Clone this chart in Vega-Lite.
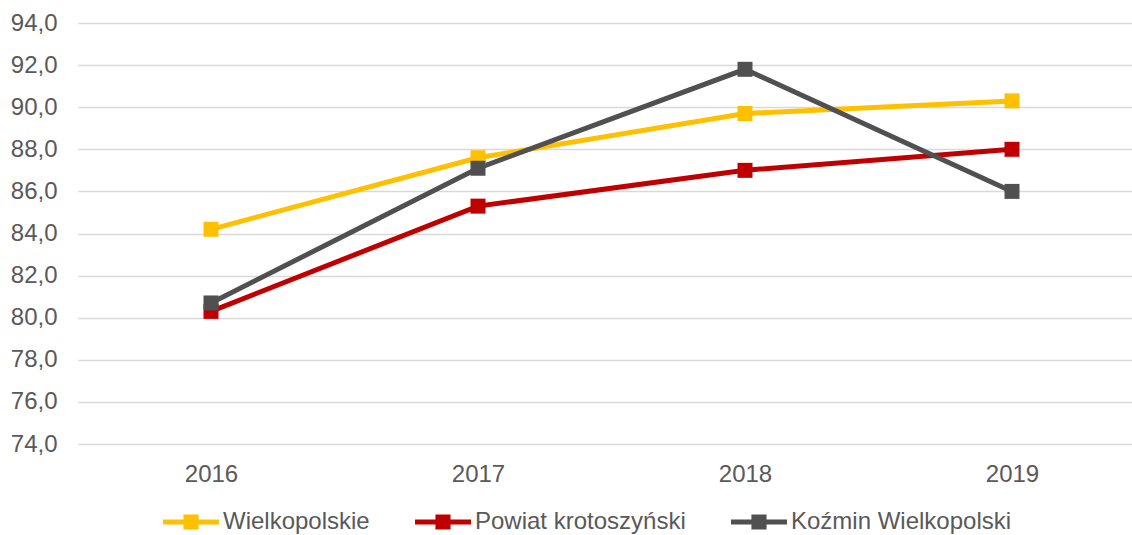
{
  "$schema": "https://vega.github.io/schema/vega-lite/v6.json",
  "width": 1054,
  "height": 421,
  "autosize": {"type": "none"},
  "padding": {"left": 78, "top": 23, "right": 0, "bottom": 91},
  "config": {"view": {"stroke": null}, "font": "Liberation Sans"},
  "data": {
    "values": [
      {"series": "Wielkopolskie", "year": "2016", "value": 84.2},
      {"series": "Wielkopolskie", "year": "2017", "value": 87.6},
      {"series": "Wielkopolskie", "year": "2018", "value": 89.7},
      {"series": "Wielkopolskie", "year": "2019", "value": 90.3},
      {"series": "Powiat krotoszyński", "year": "2016", "value": 80.3},
      {"series": "Powiat krotoszyński", "year": "2017", "value": 85.3},
      {"series": "Powiat krotoszyński", "year": "2018", "value": 87.0},
      {"series": "Powiat krotoszyński", "year": "2019", "value": 88.0},
      {"series": "Koźmin Wielkopolski", "year": "2016", "value": 80.7},
      {"series": "Koźmin Wielkopolski", "year": "2017", "value": 87.1},
      {"series": "Koźmin Wielkopolski", "year": "2018", "value": 91.8},
      {"series": "Koźmin Wielkopolski", "year": "2019", "value": 86.0}
    ]
  },
  "encoding": {
    "x": {
      "field": "year",
      "type": "ordinal",
      "scale": {"type": "point", "padding": 0.4738, "align": 0.5257},
      "axis": {
        "title": null,
        "domain": false,
        "ticks": false,
        "grid": false,
        "labelAngle": 0,
        "labelFontSize": 24,
        "labelColor": "#595959",
        "labelPadding": 18
      }
    },
    "y": {
      "field": "value",
      "type": "quantitative",
      "scale": {"domain": [74, 94], "nice": false, "zero": false},
      "axis": {
        "title": null,
        "domain": false,
        "ticks": false,
        "tickSize": 0,
        "values": [74, 76, 78, 80, 82, 84, 86, 88, 90, 92, 94],
        "labelExpr": "replace(format(datum.value, '.1f'), '.', ',')",
        "labelFontSize": 24,
        "labelColor": "#595959",
        "labelPadding": 21,
        "gridColor": "#D9D9D9",
        "gridWidth": 1.3
      }
    },
    "color": {
      "field": "series",
      "type": "nominal",
      "sort": ["Wielkopolskie", "Powiat krotoszyński", "Koźmin Wielkopolski"],
      "scale": {
        "domain": ["Wielkopolskie", "Powiat krotoszyński", "Koźmin Wielkopolski"],
        "range": ["#FFC000", "#C00000", "#505050"]
      },
      "legend": {
        "title": null,
        "orient": "none",
        "direction": "horizontal",
        "legendX": 85,
        "legendY": 471,
        "symbolType": "M-1,-0.09H1V0.09H-1Z M-0.27,-0.27H0.27V0.27H-0.27Z",
        "symbolSize": 3136,
        "symbolStrokeWidth": 0,
        "symbolOpacity": 1,
        "labelFontSize": 24,
        "labelColor": "#595959",
        "labelOffset": 4,
        "labelLimit": 0,
        "columnPadding": 45,
        "encode": {
          "symbols": {
            "update": {
              "fill": {"scale": "color", "field": "value"},
              "strokeWidth": {"value": 0},
              "opacity": {"value": 1}
            }
          }
        }
      }
    }
  },
  "layer": [
    {"mark": {"type": "line", "strokeWidth": 5}},
    {"mark": {"type": "point", "shape": "square", "filled": true, "size": 225, "opacity": 1}}
  ]
}
